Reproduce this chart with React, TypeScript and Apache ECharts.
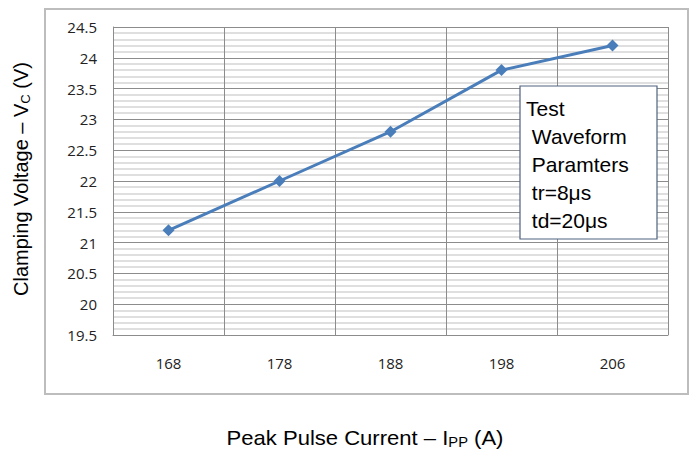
import React, { useEffect, useRef } from "react";
import * as echarts from "echarts";

const categories = ["168", "178", "188", "198", "206"];
const clampVoltage = [21.2, 22.0, 22.8, 23.8, 24.2];
const yMin = 19.5;
const yMax = 24.5;
const yStep = 0.5;
const boxLines = ["Test", " Waveform", " Paramters", " tr=8μs", " td=20μs"];

export default function App() {
  const ref = useRef<HTMLDivElement>(null);
  useEffect(() => {
    if (!ref.current) return;
    const chart = echarts.init(ref.current, null, { renderer: "svg" });
    const font = "Liberation Sans, Arial, sans-serif";
    const tickFont = "Open Sans, sans-serif";
    chart.setOption({
      animation: false,
      backgroundColor: "#ffffff",
      grid: { left: 113, top: 27, right: 26, bottom: 120, show: false },
      xAxis: {
        type: "category",
        data: categories,
        boundaryGap: true,
        axisLine: { show: true, lineStyle: { color: "#8c8c8c", width: 1 } },
        axisTick: { show: false },
        axisLabel: { margin: 20, fontSize: 15, color: "#222", fontFamily: tickFont },
        splitLine: { show: true, lineStyle: { color: "#8c8c8c", width: 1 } },
      },
      yAxis: {
        type: "value",
        min: yMin,
        max: yMax,
        interval: yStep,
        axisLine: { show: true, lineStyle: { color: "#8c8c8c", width: 1 } },
        axisTick: { show: false },
        axisLabel: {
          margin: 16,
          fontSize: 15,
          color: "#222",
          fontFamily: tickFont,
          formatter: (v: number) => String(v),
        },
        splitLine: { show: true, lineStyle: { color: "#8c8c8c", width: 1 } },
        minorTick: { show: false, splitNumber: 5 },
        minorSplitLine: { show: true, lineStyle: { color: "#d4d4d4", width: 1.5 } },
      },
      series: [
        {
          type: "line",
          data: clampVoltage,
          lineStyle: { color: "#4a7ebb", width: 3 },
          itemStyle: { color: "#4a7ebb" },
          symbol: "diamond",
          symbolSize: 12,
          z: 5,
        },
      ],
      graphic: [
        {
          type: "rect",
          shape: { x: 45, y: 9, width: 643, height: 385 },
          style: { fill: "none", stroke: "#bdbdbd", lineWidth: 2 },
          z: 0,
          silent: true,
        },
        {
          type: "rect",
          shape: { x: 520, y: 86, width: 137, height: 153 },
          style: { fill: "#ffffff", stroke: "#4e6380", lineWidth: 1.2 },
          z: 10,
        },
        ...boxLines.map((t, i) => ({
          type: "text",
          x: 526,
          y: 108 + i * 28,
          z: 11,
          style: {
            text: t,
            fontSize: 21,
            fontFamily: font,
            fill: "#000",
            verticalAlign: "middle",
          },
        })),
        {
          type: "text",
          x: 365,
          y: 438,
          scaleX: 1.05,
          style: {
            text: "Peak Pulse Current – I{sub|PP} (A)",
            fontSize: 21,
            fontFamily: font,
            fill: "#000",
            align: "center",
            verticalAlign: "middle",
            rich: {
              sub: { fontSize: 14, fontFamily: font, fill: "#000", padding: [8, 0, 0, 0] },
            },
          },
        },
        {
          type: "text",
          x: 21,
          y: 179,
          rotation: Math.PI / 2,
          style: {
            text: "Clamping Voltage – V{sub|C} (V)",
            fontSize: 20,
            fontFamily: font,
            fill: "#000",
            align: "center",
            verticalAlign: "middle",
            rich: {
              sub: { fontSize: 13, fontFamily: font, fill: "#000", padding: [8, 0, 0, 0] },
            },
          },
        },
      ],
    });
    return () => chart.dispose();
  }, []);
  return <div ref={ref} style={{ width: 694, height: 455, position: "absolute", left: 0, top: 0 }} />;
}
